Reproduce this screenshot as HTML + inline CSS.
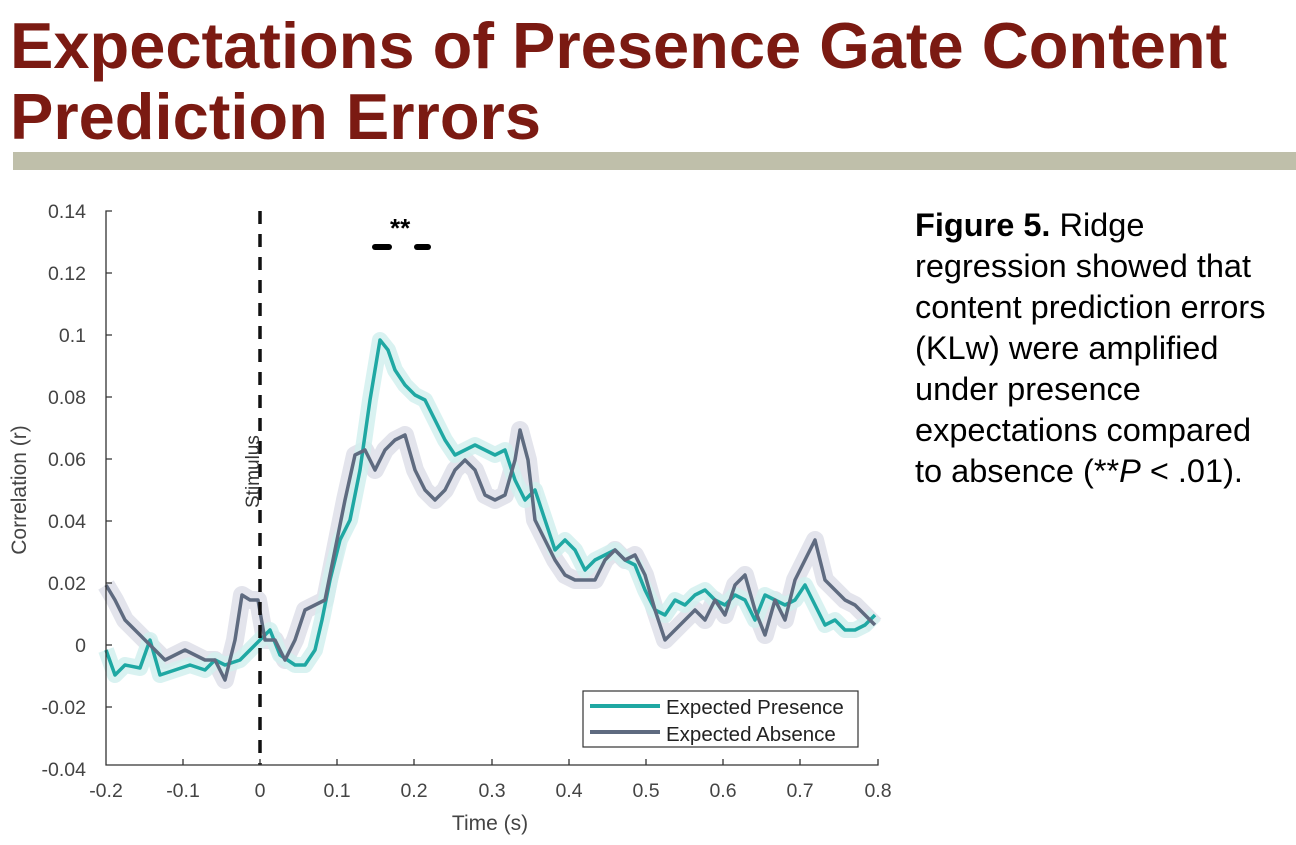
<!DOCTYPE html>
<html><head><meta charset="utf-8"><style>
body{margin:0;width:1296px;height:840px;background:#fff;overflow:hidden;font-family:"Liberation Sans",sans-serif}
</style></head><body>
<svg width="1296" height="840" xmlns="http://www.w3.org/2000/svg" font-family="Liberation Sans, sans-serif">
<text x="10" y="68" font-size="65" font-weight="bold" fill="#7b1a12">Expectations of Presence Gate Content</text>
<text x="10" y="139" font-size="65" font-weight="bold" fill="#7b1a12">Prediction Errors</text>
<rect x="13" y="152" width="1283" height="18" fill="#bfbfaa"/>
<g font-size="32.5" fill="#000">
<text x="915" y="236"><tspan font-weight="bold">Figure 5.</tspan> Ridge</text>
<text x="915" y="277">regression showed that</text>
<text x="915" y="318">content prediction errors</text>
<text x="915" y="359">(KLw) were amplified</text>
<text x="915" y="400">under presence</text>
<text x="915" y="441">expectations compared</text>
<text x="915" y="482">to absence (**<tspan font-style="italic">P</tspan> &lt; .01).</text>
</g>
<!-- bands -->
<polyline fill="none" stroke="#e3e4ec" stroke-width="18" stroke-linejoin="round" points="106,585 115,600 125,620 135,630 145,640 155,650 165,660 175,655 185,650 195,655 205,660 215,660 225,680 235,640 242,595 250,600 258,600 265,640 275,640 285,660 295,640 305,610 315,605 325,600 335,550 345,500 355,455 365,450 375,470 385,450 395,440 405,435 415,470 425,490 435,500 445,490 455,470 465,460 475,470 485,495 495,500 505,495 515,460 520,430 528,460 535,520 545,540 555,560 565,575 575,580 585,580 595,580 605,560 615,550 625,560 635,555 645,575 655,610 665,640 675,630 685,620 695,610 705,620 715,600 725,615 735,585 745,575 755,610 765,635 775,600 785,620 795,580 805,560 815,540 825,580 835,590 845,600 855,605 865,615 875,625"/>
<polyline fill="none" stroke="#d2f0ef" stroke-width="16" stroke-linejoin="round" opacity="0.85" points="106,650 115,675 125,665 140,668 150,640 160,675 175,670 190,665 205,670 215,660 225,665 240,660 250,650 260,640 270,630 280,655 295,665 305,665 315,650 322,620 330,580 340,540 350,520 360,470 370,400 380,340 388,350 395,370 405,385 415,395 425,400 435,420 445,440 455,455 465,450 475,445 485,450 495,455 505,450 515,480 525,500 535,490 545,520 555,550 565,540 575,550 585,570 595,560 605,555 615,550 625,560 635,565 645,590 655,610 665,615 675,600 685,605 695,595 705,590 715,600 725,605 735,595 745,600 755,620 765,595 775,600 785,605 795,600 805,585 815,605 825,625 835,620 845,630 855,630 865,625 875,615"/>
<!-- lines -->
<polyline fill="none" stroke="#1fa8a3" stroke-width="3.5" stroke-linejoin="round" points="106,650 115,675 125,665 140,668 150,640 160,675 175,670 190,665 205,670 215,660 225,665 240,660 250,650 260,640 270,630 280,655 295,665 305,665 315,650 322,620 330,580 340,540 350,520 360,470 370,400 380,340 388,350 395,370 405,385 415,395 425,400 435,420 445,440 455,455 465,450 475,445 485,450 495,455 505,450 515,480 525,500 535,490 545,520 555,550 565,540 575,550 585,570 595,560 605,555 615,550 625,560 635,565 645,590 655,610 665,615 675,600 685,605 695,595 705,590 715,600 725,605 735,595 745,600 755,620 765,595 775,600 785,605 795,600 805,585 815,605 825,625 835,620 845,630 855,630 865,625 875,615"/>
<polyline fill="none" stroke="#5f6b80" stroke-width="3.5" stroke-linejoin="round" points="106,585 115,600 125,620 135,630 145,640 155,650 165,660 175,655 185,650 195,655 205,660 215,660 225,680 235,640 242,595 250,600 258,600 265,640 275,640 285,660 295,640 305,610 315,605 325,600 335,550 345,500 355,455 365,450 375,470 385,450 395,440 405,435 415,470 425,490 435,500 445,490 455,470 465,460 475,470 485,495 495,500 505,495 515,460 520,430 528,460 535,520 545,540 555,560 565,575 575,580 585,580 595,580 605,560 615,550 625,560 635,555 645,575 655,610 665,640 675,630 685,620 695,610 705,620 715,600 725,615 735,585 745,575 755,610 765,635 775,600 785,620 795,580 805,560 815,540 825,580 835,590 845,600 855,605 865,615 875,625"/>
<!-- stimulus -->
<line x1="260" y1="211" x2="260" y2="765" stroke="#111" stroke-width="3.5" stroke-dasharray="13,10"/>
<text transform="translate(259,508) rotate(-90)" font-size="19" fill="#333">Stimulus</text>
<!-- sig -->
<text x="390" y="237" font-size="26" font-weight="bold">**</text>
<line x1="375" y1="247" x2="389" y2="247" stroke="#000" stroke-width="6" stroke-linecap="round"/>
<line x1="417" y1="247" x2="428" y2="247" stroke="#000" stroke-width="6" stroke-linecap="round"/>
<!-- axes -->
<g stroke="#333" stroke-width="1.3" fill="none">
<path d="M112,211 H106 V765 H878 V759"/>
<path d="M106,273 h6 M106,335 h6 M106,397 h6 M106,459 h6 M106,521 h6 M106,583 h6 M106,645 h6 M106,707 h6"/>
<path d="M183,765 v-6 M260,765 v-6 M337,765 v-6 M414,765 v-6 M492,765 v-6 M569,765 v-6 M646,765 v-6 M723,765 v-6 M800,765 v-6"/>
</g>
<g font-size="19.5" fill="#444" text-anchor="end">
<text x="86" y="218">0.14</text><text x="86" y="280">0.12</text><text x="86" y="342">0.1</text><text x="86" y="404">0.08</text><text x="86" y="466">0.06</text><text x="86" y="528">0.04</text><text x="86" y="590">0.02</text><text x="86" y="652">0</text><text x="86" y="714">-0.02</text><text x="86" y="776">-0.04</text>
</g>
<g font-size="19.5" fill="#444" text-anchor="middle">
<text x="106" y="797">-0.2</text><text x="183" y="797">-0.1</text><text x="260" y="797">0</text><text x="337" y="797">0.1</text><text x="414" y="797">0.2</text><text x="492" y="797">0.3</text><text x="569" y="797">0.4</text><text x="646" y="797">0.5</text><text x="723" y="797">0.6</text><text x="800" y="797">0.7</text><text x="878" y="797">0.8</text>
<text x="490" y="830" font-size="21">Time (s)</text>
<text transform="translate(26,490) rotate(-90)" font-size="21">Correlation (r)</text>
</g>
<!-- legend -->
<rect x="583" y="691" width="275" height="56" fill="#fff" stroke="#333" stroke-width="1.2"/>
<line x1="590" y1="706" x2="660" y2="706" stroke="#1fa8a3" stroke-width="4"/>
<line x1="590" y1="732" x2="660" y2="732" stroke="#5f6b80" stroke-width="4"/>
<text x="666" y="714" font-size="20.5" fill="#222">Expected Presence</text>
<text x="666" y="741" font-size="20.5" fill="#222">Expected Absence</text>
</svg>
</body></html>
